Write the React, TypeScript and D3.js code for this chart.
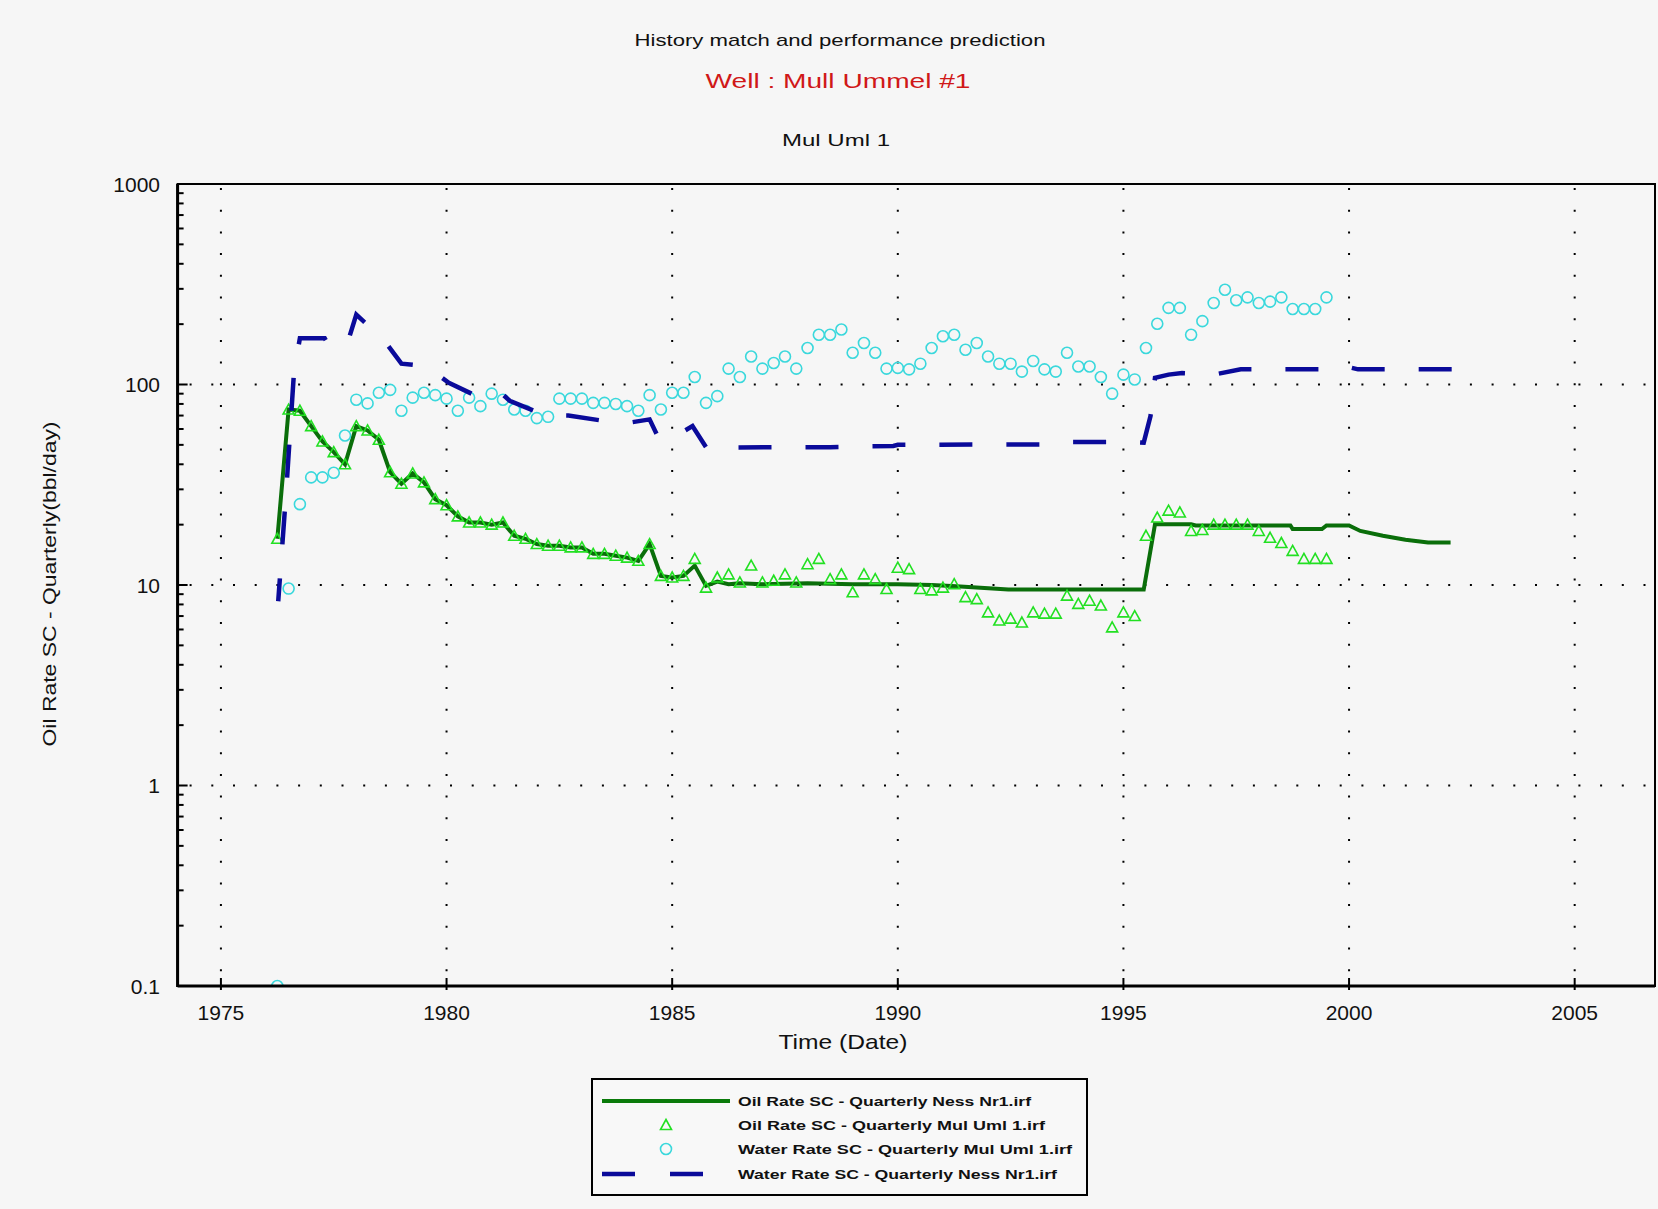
import React from 'react';
import * as d3 from 'd3';

const W = 1658;
const H = 1209;

const xTicks = [1975, 1980, 1985, 1990, 1995, 2000, 2005];
const yTicks = [0.1, 1, 10, 100, 1000];
const yTickLabels = ['0.1', '1', '10', '100', '1000'];

const titleLines = ['History match and performance prediction', 'Well : Mull  Ummel #1', 'Mul Uml  1'];
const xLabel = 'Time (Date)';
const yLabel = 'Oil Rate SC - Quarterly(bbl/day)';
const legendLabels = [
  'Oil Rate SC - Quarterly Ness Nr1.irf',
  'Oil Rate SC - Quarterly Mul Uml 1.irf',
  'Water Rate SC - Quarterly Mul Uml 1.irf',
  'Water Rate SC - Quarterly Ness Nr1.irf',
];

// Observed oil rate (triangles)
const oilObserved: [number, number][] = [
  [1976.25, 17], [1976.5, 75], [1976.75, 74], [1977, 62], [1977.25, 52], [1977.5, 46], [1977.75, 40],
  [1978, 62], [1978.25, 59], [1978.5, 53], [1978.75, 36.5], [1979, 32], [1979.25, 36], [1979.5, 32.5],
  [1979.75, 26.8], [1980, 25], [1980.25, 22], [1980.5, 20.5], [1980.75, 20.5], [1981, 20], [1981.25, 20.5],
  [1981.5, 17.6], [1981.75, 17], [1982, 16], [1982.25, 15.7], [1982.5, 15.7], [1982.75, 15.4], [1983, 15.4],
  [1983.25, 14.3], [1983.5, 14.3], [1983.75, 14], [1984, 13.7], [1984.25, 13.2], [1984.5, 16], [1984.75, 11.1],
  [1985, 10.9], [1985.25, 11.1], [1985.5, 13.5], [1985.75, 9.7], [1986, 10.9], [1986.25, 11.3], [1986.5, 10.3],
  [1986.75, 12.5], [1987, 10.3], [1987.25, 10.5], [1987.5, 11.3], [1987.75, 10.3], [1988, 12.7], [1988.25, 13.5],
  [1988.5, 10.7], [1988.75, 11.3], [1989, 9.2], [1989.25, 11.3], [1989.5, 10.7], [1989.75, 9.55], [1990, 12.2],
  [1990.25, 12], [1990.5, 9.55], [1990.75, 9.4], [1991, 9.7], [1991.25, 10.1], [1991.5, 8.7], [1991.75, 8.5],
  [1992, 7.3], [1992.25, 6.65], [1992.5, 6.8], [1992.75, 6.5], [1993, 7.3], [1993.25, 7.2], [1993.5, 7.2],
  [1993.75, 8.85], [1994, 8.05], [1994.25, 8.35], [1994.5, 7.9], [1994.75, 6.15], [1995, 7.3], [1995.25, 7],
  [1995.5, 17.6], [1995.75, 21.7], [1996, 23.5], [1996.25, 23], [1996.5, 18.6], [1996.75, 18.8], [1997, 20],
  [1997.25, 20], [1997.5, 20], [1997.75, 20], [1998, 18.6], [1998.25, 17.2], [1998.5, 16.2], [1998.75, 14.8],
  [1999, 13.5], [1999.25, 13.5], [1999.5, 13.5],
];

// Observed water rate (circles)
const waterObserved: [number, number][] = [
  [1976.25, 0.1], [1976.5, 9.6], [1976.75, 25.3], [1977, 34.4], [1977.25, 34.4], [1977.5, 36.3], [1977.75, 55.7],
  [1978, 84], [1978.25, 80.5], [1978.5, 91], [1978.75, 94], [1979, 74], [1979.25, 86], [1979.5, 91],
  [1979.75, 88.5], [1980, 85], [1980.25, 74], [1980.5, 86], [1980.75, 78], [1981, 90], [1981.25, 84],
  [1981.5, 75], [1981.75, 74], [1982, 68], [1982.25, 69], [1982.5, 85], [1982.75, 85], [1983, 85],
  [1983.25, 81], [1983.5, 81], [1983.75, 80], [1984, 78], [1984.25, 74], [1984.5, 88.5], [1984.75, 75],
  [1985, 91], [1985.25, 91], [1985.5, 109], [1985.75, 81], [1986, 87.5], [1986.25, 120], [1986.5, 109],
  [1986.75, 138], [1987, 120], [1987.25, 128], [1987.5, 138], [1987.75, 120], [1988, 152], [1988.25, 177],
  [1988.5, 177], [1988.75, 188], [1989, 144], [1989.25, 161], [1989.5, 144], [1989.75, 120], [1990, 121],
  [1990.25, 119], [1990.5, 127], [1990.75, 152], [1991, 174], [1991.25, 177], [1991.5, 149], [1991.75, 161],
  [1992, 138], [1992.25, 127], [1992.5, 127], [1992.75, 116], [1993, 131], [1993.25, 119], [1993.5, 116],
  [1993.75, 144], [1994, 123], [1994.25, 123], [1994.5, 109], [1994.75, 90], [1995, 112], [1995.25, 106],
  [1995.5, 152], [1995.75, 201], [1996, 241], [1996.25, 241], [1996.5, 177], [1996.75, 207], [1997, 255],
  [1997.25, 297], [1997.5, 263], [1997.75, 272], [1998, 255], [1998.25, 259], [1998.5, 272], [1998.75, 238],
  [1999, 238], [1999.25, 238], [1999.5, 272],
];

// Simulated oil rate (solid dark green)
const oilSimulated: [number, number][] = [
  [1976.25, 17], [1976.5, 75], [1976.75, 74], [1977, 62], [1977.25, 52], [1977.5, 46], [1977.75, 40],
  [1978, 62], [1978.25, 59], [1978.5, 53], [1978.75, 36.5], [1979, 32], [1979.25, 36], [1979.5, 32.5],
  [1979.75, 26.8], [1980, 25], [1980.25, 22], [1980.5, 20.5], [1980.75, 20.5], [1981, 20], [1981.25, 20.5],
  [1981.5, 17.6], [1981.75, 17], [1982, 16], [1982.25, 15.7], [1982.5, 15.7], [1982.75, 15.4], [1983, 15.4],
  [1983.25, 14.3], [1983.5, 14.3], [1983.75, 14], [1984, 13.7], [1984.25, 13.2], [1984.5, 16], [1984.75, 11.1],
  [1985, 10.9], [1985.25, 11.1], [1985.5, 12.5], [1985.75, 9.9], [1986, 10.4], [1986.25, 10.1], [1986.5, 10.2],
  [1987, 10.1], [1988, 10.2], [1989, 10.1], [1990, 10.1], [1990.75, 10.0], [1991.3, 9.85], [1992.45, 9.5],
  [1995.45, 9.5], [1995.7, 20.1], [1996.5, 20.1], [1996.6, 19.8], [1998.7, 19.8], [1998.75, 19.0], [1999.4, 19.0],
  [1999.5, 19.8], [2000, 19.8], [2000.25, 18.6], [2000.75, 17.6], [2001.25, 16.8], [2001.75, 16.3], [2002.25, 16.3],
];

// Simulated water rate (dashed navy)
const waterSimulated: [number, number][] = [
  [1976.27, 8.3], [1976.45, 30], [1976.62, 116], [1976.75, 170], [1977.3, 170], [1977.4, 155], [1977.8, 160],
  [1978, 223], [1978.6, 168], [1979, 127], [1979.6, 123], [1979.85, 110], [1980.05, 102], [1980.74, 86],
  [1981.03, 89], [1981.25, 89], [1981.4, 83], [1982, 73], [1982.28, 70], [1982.7, 70], [1983.46, 66],
  [1984.05, 64.5], [1984.5, 67], [1984.7, 54], [1985, 54], [1985.45, 62], [1985.78, 47.5], [1986, 48.5],
  [1988.5, 48.7], [1989.9, 49.4], [1990, 50], [1993.5, 50.3], [1993.7, 51.6], [1995.25, 51.6], [1995.45, 51.3],
  [1995.6, 69.5], [1995.7, 108], [1996, 112], [1996.3, 114], [1997, 112], [1997.6, 119], [1999.2, 119],
  [1999.9, 119], [2000, 122], [2000.2, 119], [2002.3, 119],
];

const FONT = '"Liberation Sans", Arial, sans-serif';

export default function App() {
  const left = 177.6, right = 1655, top = 184, bottom = 986;
  const x = d3.scaleLinear().domain([1974.04, 2006.78]).range([left, right]);
  const y = d3.scaleLog().domain([0.1, 1000]).range([bottom, top]);
  const line = d3.line<[number, number]>().x(d => x(d[0])).y(d => y(d[1]));
  const minorTicks = y.ticks().filter(t => Math.abs(Math.log10(t) - Math.round(Math.log10(t))) > 1e-6);
  const triPath = 'M0,-5.5 L5.5,4.5 L-5.5,4.5 Z';

  // dash phase: align a dash start with the flat stretch as in the reference
  const DASH = 33, GAP = 34, PERIOD = DASH + GAP;
  const anchorYear = 1986.47;
  let L0 = 0;
  for (let i = 1; i < waterSimulated.length; i++) {
    const a = waterSimulated[i - 1], b = waterSimulated[i];
    const ax = x(a[0]), ay = y(a[1]), bx = x(b[0]), by = y(b[1]);
    if (b[0] <= anchorYear) {
      L0 += Math.hypot(bx - ax, by - ay);
    } else {
      const f = (anchorYear - a[0]) / (b[0] - a[0]);
      L0 += Math.hypot(bx - ax, by - ay) * f;
      break;
    }
  }
  const dashOffset = ((PERIOD - (L0 % PERIOD)) % PERIOD);

  const legX0 = 592, legY0 = 1079, legW = 495, legH = 116;
  const rowY = [1101, 1125, 1149, 1174];
  const legLens = [293, 307, 334, 319];

  return (
    <svg width={W} height={H} style={{ position: 'absolute', left: 0, top: 0, background: '#f6f6f6' }} fontFamily={FONT}>
      <rect x={0} y={0} width={W} height={H} fill="#f6f6f6" />
      <defs>
        <clipPath id="plotClip">
          <rect x={left} y={top} width={right - left} height={bottom - top} />
        </clipPath>
      </defs>

      {/* titles */}
      <text x={840} y={46} textAnchor="middle" fontSize={17} fill="#111" textLength={411} lengthAdjust="spacingAndGlyphs">{titleLines[0]}</text>
      <text x={838} y={88} textAnchor="middle" fontSize={21} fill="#d01818" textLength={265} lengthAdjust="spacingAndGlyphs">{titleLines[1]}</text>
      <text x={836} y={146} textAnchor="middle" fontSize={17} fill="#111" textLength={108} lengthAdjust="spacingAndGlyphs">{titleLines[2]}</text>

      {/* grid */}
      <g stroke="#000" strokeWidth={2} strokeDasharray="2 19.7" fill="none">
        {xTicks.map(t => (
          <line key={'gx' + t} x1={x(t)} x2={x(t)} y1={top + 4} y2={bottom} />
        ))}
        {yTicks.filter(t => t > 0.1 && t < 1000).map(t => (
          <line key={'gy' + t} x1={left + 12} x2={right} y1={y(t)} y2={y(t)} />
        ))}
      </g>

      {/* series */}
      <g clipPath="url(#plotClip)">
        <path d={line(oilSimulated) || ''} fill="none" stroke="#0a6e0a" strokeWidth={4} strokeLinejoin="miter" />
        {oilObserved.map((d, i) => (
          <path key={'t' + i} d={triPath} transform={`translate(${x(d[0])},${y(d[1])})`} fill="none" stroke="#22e022" strokeWidth={1.6} />
        ))}
        {waterObserved.map((d, i) => (
          <circle key={'c' + i} cx={x(d[0])} cy={y(d[1])} r={5.5} fill="none" stroke="#3ad8dc" strokeWidth={1.6} />
        ))}
        <path d={line(waterSimulated) || ''} fill="none" stroke="#0a0a9a" strokeWidth={4.5} strokeDasharray={`${DASH} ${GAP}`} strokeDashoffset={dashOffset} />
      </g>

      {/* frame */}
      <rect x={left} y={top} width={right - left} height={bottom - top} fill="none" stroke="#000" strokeWidth={2} />
      <line x1={left} x2={left} y1={top} y2={bottom + 1} stroke="#000" strokeWidth={3} />
      <line x1={left} x2={right} y1={bottom} y2={bottom} stroke="#000" strokeWidth={3} />

      {/* ticks */}
      <g stroke="#000" strokeWidth={2}>
        {yTicks.map(t => (
          <line key={'yt' + t} x1={left} x2={left + 10} y1={y(t)} y2={y(t)} />
        ))}
        {minorTicks.map((t, i) => (
          <line key={'ym' + i} x1={left} x2={left + 6} y1={y(t)} y2={y(t)} />
        ))}
        {xTicks.map(t => (
          <line key={'xt' + t} x1={x(t)} x2={x(t)} y1={bottom - 8} y2={bottom + 4} />
        ))}
      </g>

      {/* tick labels */}
      {yTicks.map((t, i) => (
        <text key={'yl' + t} x={160} y={y(t)} dy="0.36em" textAnchor="end" fontSize={21} fill="#111">{yTickLabels[i]}</text>
      ))}
      {xTicks.map(t => (
        <text key={'xl' + t} x={x(t)} y={1012} dy="0.36em" textAnchor="middle" fontSize={21} fill="#111">{String(t)}</text>
      ))}

      {/* axis titles */}
      <text x={843} y={1041} dy="0.36em" textAnchor="middle" fontSize={21} fill="#111" textLength={129} lengthAdjust="spacingAndGlyphs">{xLabel}</text>
      <text transform="translate(50,584) rotate(-90)" dy="0.36em" textAnchor="middle" fontSize={18} fill="#111" textLength={325} lengthAdjust="spacingAndGlyphs">{yLabel}</text>

      {/* legend */}
      <rect x={legX0} y={legY0} width={legW} height={legH} fill="#f8f8f8" stroke="#000" strokeWidth={2} />
      <line x1={602} x2={730} y1={rowY[0]} y2={rowY[0]} stroke="#0a7a0a" strokeWidth={4} />
      <path d={triPath} transform={`translate(666,${rowY[1]})`} fill="none" stroke="#22e022" strokeWidth={1.6} />
      <circle cx={666} cy={rowY[2]} r={5.5} fill="none" stroke="#3ad8dc" strokeWidth={1.6} />
      <line x1={602} x2={738} y1={rowY[3]} y2={rowY[3]} stroke="#0a0a9a" strokeWidth={4.5} strokeDasharray="33 35" />
      {legendLabels.map((s, i) => (
        <text key={'lg' + i} x={738} y={rowY[i]} dy="0.36em" fontSize={13} fontWeight="bold" fill="#111" textLength={legLens[i]} lengthAdjust="spacingAndGlyphs">{s}</text>
      ))}
    </svg>
  );
}
